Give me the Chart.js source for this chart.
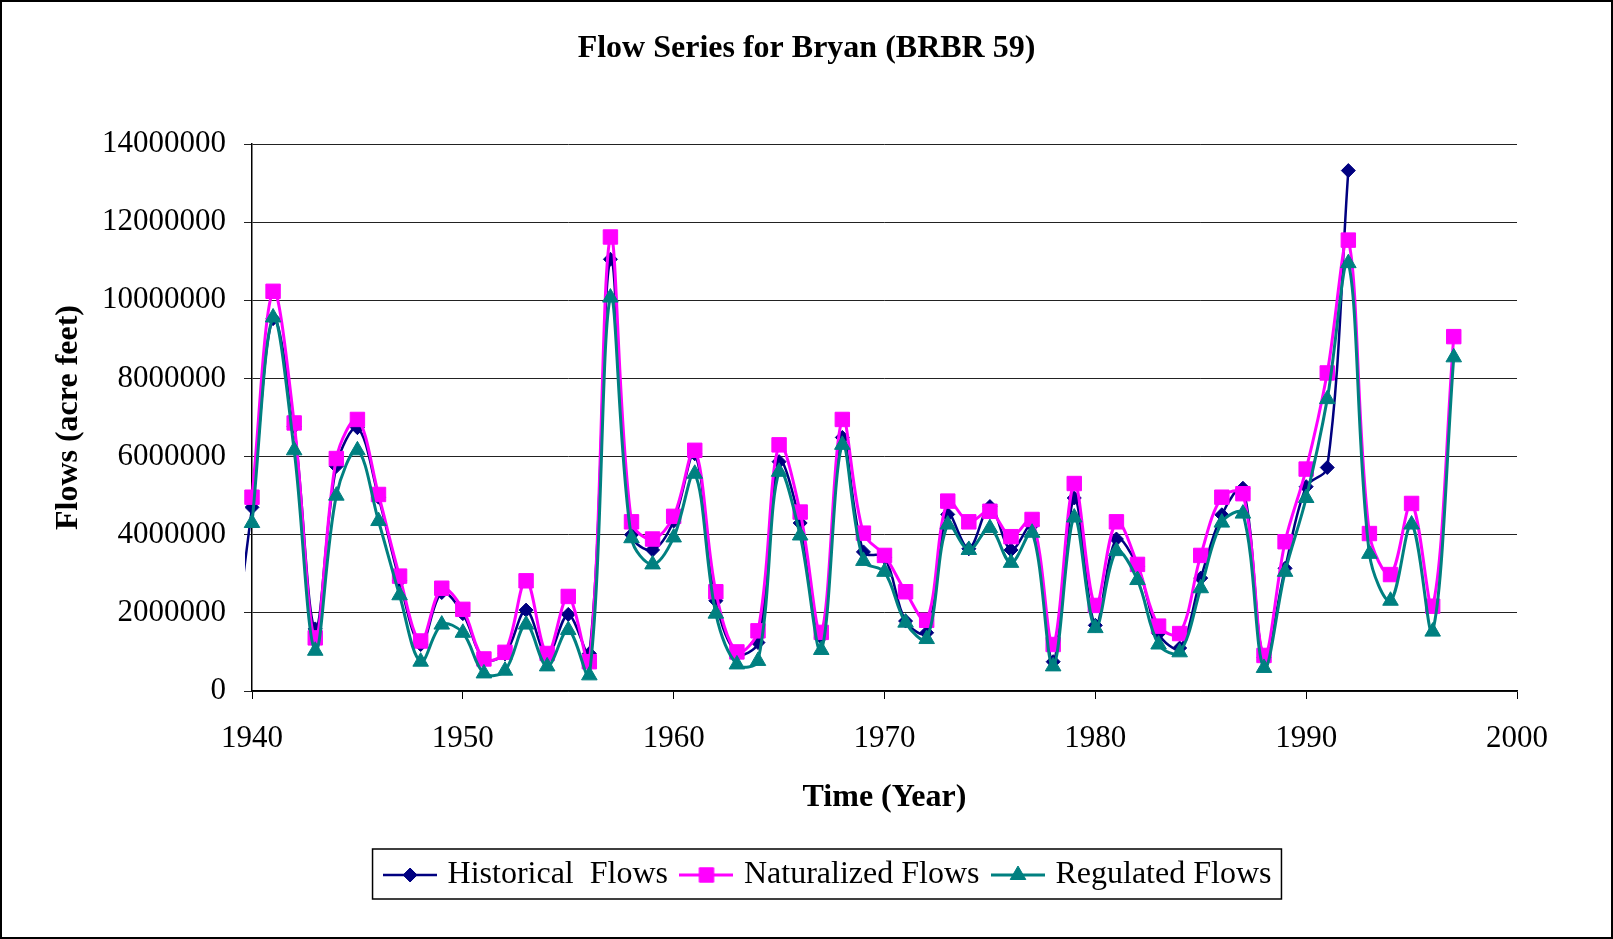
<!DOCTYPE html>
<html>
<head>
<meta charset="utf-8">
<script src="https://cdn.jsdelivr.net/npm/chart.js@4/dist/chart.umd.min.js"></script>
<style>
  html, body { margin: 0; padding: 0; background: #fff; }
  canvas { display: block; }
</style>
</head>
<body>
<canvas id="flow-chart" width="1613" height="939"></canvas>
<script>
const FONT = "'Liberation Serif', 'Times New Roman', serif";

const historicalYears = [
  1939, 1940, 1941, 1942, 1943, 1944, 1945, 1946, 1947, 1948, 1949,
  1950, 1951, 1952, 1953, 1954, 1955, 1956, 1957, 1958, 1959,
  1960, 1961, 1962, 1963, 1964, 1965, 1966, 1967, 1968, 1969,
  1970, 1971, 1972, 1973, 1974, 1975, 1976, 1977, 1978, 1979,
  1980, 1981, 1982, 1983, 1984, 1985, 1986, 1987, 1988, 1989,
  1990, 1991, 1992,
];
const historicalFlows = [
  500000, 4700000, 9530000, 6770000, 1590000, 5750000, 6740000, 4960000, 2820000, 1190000, 2520000,
  1980000, 820000, 950000, 2070000, 910000, 1960000, 960000, 11050000, 4000000, 3610000,
  4350000, 6070000, 2310000, 960000, 1240000, 5870000, 4300000, 1380000, 6490000, 3560000,
  3420000, 1790000, 1490000, 4520000, 3640000, 4720000, 3610000, 4240000, 750000, 4940000,
  1680000, 3890000, 3190000, 1470000, 1100000, 2890000, 4510000, 5190000, 860000, 3140000,
  5230000, 5720000, 13320000,
];

const years = [
  1940, 1941, 1942, 1943, 1944, 1945, 1946, 1947, 1948, 1949,
  1950, 1951, 1952, 1953, 1954, 1955, 1956, 1957, 1958, 1959,
  1960, 1961, 1962, 1963, 1964, 1965, 1966, 1967, 1968, 1969,
  1970, 1971, 1972, 1973, 1974, 1975, 1976, 1977, 1978, 1979,
  1980, 1981, 1982, 1983, 1984, 1985, 1986, 1987, 1988, 1989,
  1990, 1991, 1992, 1993, 1994, 1995, 1996, 1997,
];
const naturalizedFlows = [
  4960000, 10230000, 6860000, 1360000, 5950000, 6950000, 5030000, 2940000, 1280000, 2630000,
  2090000, 820000, 990000, 2820000, 960000, 2420000, 750000, 11620000, 4330000, 3890000,
  4470000, 6160000, 2540000, 1000000, 1540000, 6300000, 4580000, 1500000, 6950000, 4040000,
  3470000, 2540000, 1810000, 4860000, 4330000, 4600000, 3950000, 4390000, 1190000, 5310000,
  2190000, 4330000, 3240000, 1660000, 1470000, 3470000, 4960000, 5050000, 910000, 3820000,
  5680000, 8140000, 11540000, 4030000, 2980000, 4800000, 2170000, 9070000,
];
const regulatedFlows = [
  4300000, 9560000, 6160000, 1030000, 5000000, 6160000, 4350000, 2450000, 750000, 1700000,
  1490000, 450000, 520000, 1700000, 630000, 1560000, 400000, 10070000, 3910000, 3240000,
  3930000, 5560000, 1980000, 680000, 770000, 5610000, 3980000, 1050000, 6300000, 3330000,
  3050000, 1750000, 1330000, 4260000, 3610000, 4170000, 3280000, 4050000, 630000, 4440000,
  1610000, 3580000, 2840000, 1190000, 990000, 2630000, 4310000, 4540000, 590000, 3050000,
  4940000, 7470000, 10950000, 3510000, 2310000, 4260000, 1520000, 8540000,
];

const seriesLabels = ['Historical  Flows', 'Naturalized Flows', 'Regulated Flows'];
const seriesColors = ['#000080', '#FF00FF', '#008080'];
const seriesShapes = ['rectRot', 'rect', 'triangle'];
const seriesRadius = [7, 10.2, 9];
const seriesWidth = [2.5, 3, 3];
const xTicks = [1940, 1950, 1960, 1970, 1980, 1990, 2000];
const yTicks = [0, 2000000, 4000000, 6000000, 8000000, 10000000, 12000000, 14000000];

const toPoints = (xs, ys) => xs.map((x, i) => ({ x: x, y: ys[i] }));

// small line + marker picture used as the legend symbol
const makeIcon = (color, shape, width) => {
  const icon = document.createElement('canvas');
  icon.width = 54;
  icon.height = 26;
  const c = icon.getContext('2d');
  c.strokeStyle = color;
  c.fillStyle = color;
  c.lineWidth = width;
  c.beginPath();
  c.moveTo(0, 13);
  c.lineTo(54, 13);
  c.stroke();
  c.lineWidth = 1;
  c.beginPath();
  if (shape === 'rectRot') {
    c.moveTo(27, 6); c.lineTo(34, 13); c.lineTo(27, 20); c.lineTo(20, 13); c.closePath();
  } else if (shape === 'rect') {
    c.rect(19.8, 5.8, 14.4, 14.4);
  } else {
    c.moveTo(27, 4); c.lineTo(34.8, 17.5); c.lineTo(19.2, 17.5); c.closePath();
  }
  c.fill();
  c.stroke();
  return icon;
};
const legendIcons = seriesColors.map((color, i) => makeIcon(color, seriesShapes[i], seriesWidth[i]));

const makeDataset = (i, data, order, clip) => ({
  label: seriesLabels[i],
  data: data,
  order: order,
  clip: clip,
  borderColor: seriesColors[i],
  backgroundColor: seriesColors[i],
  borderWidth: seriesWidth[i],
  tension: 0.35,
  pointStyle: seriesShapes[i],
  pointRadius: seriesRadius[i],
  pointBorderWidth: 1,
  pointBackgroundColor: seriesColors[i],
  pointBorderColor: seriesColors[i],
});

const framePlugin = {
  id: 'frames',
  afterLayout: (chart) => {
    chart.legend.left += 23.5;
    chart.legend.right += 23.5;
  },
  afterDraw: (chart) => {
    const ctx = chart.ctx;
    const boxes = chart.legend.legendHitBoxes;
    const first = boxes[0];
    const last = boxes[boxes.length - 1];
    const left = first.left - 16;
    ctx.save();
    ctx.strokeStyle = '#000';
    ctx.lineWidth = 1.5;
    ctx.strokeRect(left, first.top - 10, last.left + last.width + 10 - left, 50);
    ctx.lineWidth = 2;
    ctx.strokeRect(1, 1, 1611, 937);
    ctx.restore();
  },
};

const config = {
  type: 'line',
  data: {
    datasets: [
      makeDataset(0, toPoints(historicalYears, historicalFlows), 3, { left: 7, top: 20, right: 20, bottom: 20 }),
      makeDataset(1, toPoints(years, naturalizedFlows), 2, false),
      makeDataset(2, toPoints(years, regulatedFlows), 1, false),
    ],
  },
  options: {
    responsive: false,
    devicePixelRatio: 1,
    animation: false,
    layout: { padding: { top: 0, left: 0, right: 0, bottom: 38 } },
    scales: {
      x: {
        type: 'linear',
        min: xTicks[0],
        max: xTicks[xTicks.length - 1],
        afterBuildTicks: (scale) => { scale.ticks = xTicks.map((v) => ({ value: v })); },
        afterFit: (scale) => { scale.height = 151; },
        grid: { drawOnChartArea: false, drawTicks: true, tickLength: 8, color: '#000' },
        border: { display: true, color: '#000', width: 1.5 },
        ticks: {
          color: '#000',
          padding: 21,
          maxRotation: 0,
          autoSkip: false,
          font: { family: FONT, size: 31 },
          callback: (v) => String(v),
        },
        title: {
          display: true,
          text: 'Time (Year)',
          color: '#000',
          padding: { top: 0, bottom: 25 },
          font: { family: FONT, size: 32, weight: 'bold' },
        },
      },
      y: {
        type: 'linear',
        position: 'left',
        min: yTicks[0],
        max: yTicks[yTicks.length - 1],
        afterBuildTicks: (scale) => { scale.ticks = yTicks.map((v) => ({ value: v })); },
        afterFit: (scale) => { scale.width = 252; },
        grid: { color: '#222', lineWidth: 1, drawTicks: true, tickLength: 8 },
        border: { display: true, color: '#000', width: 1.5 },
        ticks: {
          color: '#000',
          padding: 18,
          font: { family: FONT, size: 31 },
          callback: (v) => String(v),
        },
        title: {
          display: true,
          text: 'Flows (acre feet)',
          color: '#000',
          padding: { top: 49.5, bottom: 0 },
          font: { family: FONT, size: 32, weight: 'bold' },
        },
      },
      // empty scale on the right that only keeps the space free
      yRight: {
        type: 'linear',
        position: 'right',
        display: true,
        afterFit: (scale) => { scale.width = 96; },
        grid: { display: false },
        border: { display: false },
        ticks: { display: false },
      },
    },
    plugins: {
      title: {
        display: true,
        text: 'Flow Series for Bryan (BRBR 59)',
        color: '#000',
        padding: { top: 29.8, bottom: 75.8 },
        font: { family: FONT, size: 32, weight: 'bold' },
      },
      legend: {
        position: 'bottom',
        labels: {
          usePointStyle: true,
          pointStyleWidth: 43,
          padding: 17,
          color: '#000',
          font: { family: FONT, size: 32 },
          generateLabels: (chart) => chart.data.datasets.map((ds, i) => ({
            text: ds.label,
            pointStyle: legendIcons[i],
            fillStyle: ds.borderColor,
            strokeStyle: ds.borderColor,
            fontColor: '#000',
            lineWidth: 0,
            hidden: false,
            datasetIndex: i,
          })),
        },
      },
      tooltip: { enabled: false },
    },
  },
  plugins: [framePlugin],
};

new Chart(document.getElementById('flow-chart'), config);
</script>
</body>
</html>
